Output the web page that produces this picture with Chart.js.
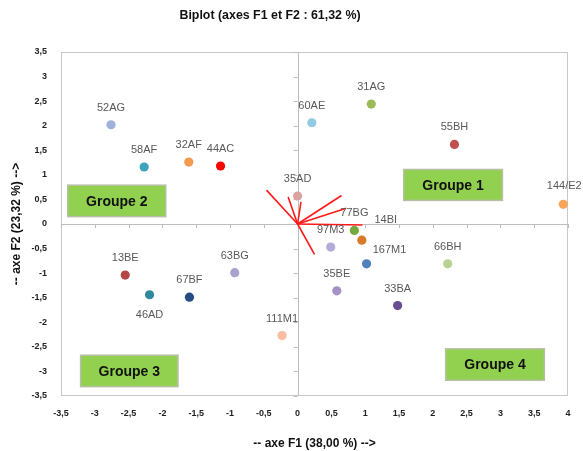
<!DOCTYPE html>
<html>
<head>
<meta charset="utf-8">
<script src="https://cdn.jsdelivr.net/npm/chart.js@4"></script>
<style>
  html, body { margin: 0; padding: 0; background: #fff; }
  #wrap { width: 583px; height: 451px; position: relative; }
</style>
</head>
<body>
<div id="wrap"><canvas id="biplot"></canvas></div>
<script>
// observations (F1, F2)
const obsNames = ['52AG', '58AF', '32AF', '44AC', '35AD', '60AE', '31AG', '55BH', '144/E2',
  '77BG', '14BI', '97M3', '167M1', '66BH', '35BE', '33BA', '111M1', '13BE', '46AD', '67BF', '63BG'];
const obsF1 = [-2.76, -2.27, -1.61, -1.14, 0.00, 0.21, 1.09, 2.32, 3.93,
  0.84, 0.95, 0.49, 1.02, 2.22, 0.58, 1.48, -0.23, -2.55, -2.19, -1.60, -0.93];
const obsF2 = [2.02, 1.16, 1.26, 1.18, 0.57, 2.06, 2.44, 1.62, 0.40,
  -0.13, -0.33, -0.47, -0.81, -0.81, -1.36, -1.66, -2.27, -1.04, -1.44, -1.49, -0.99];

// variable vectors (red lines)
const varF1 = [-0.46, -0.14, 0.05, 0.65, 0.72, 0.96, 0.25];
const varF2 = [0.69, 0.55, 0.45, 0.58, 0.32, -0.02, -0.62];

// group boxes [xMin, xMax, yMin, yMax]
const groupNames = ['Groupe 1', 'Groupe 2', 'Groupe 3', 'Groupe 4'];
const groupBoxes = [[1.57, 3.03, 0.48, 1.11], [-3.40, -1.95, 0.15, 0.79],
  [-3.21, -1.77, -3.31, -2.67], [2.19, 3.65, -3.18, -2.54]];

// styling
const obsColors = ['#9fb1d8', '#3ba3bc', '#f29a4e', '#ff0000', '#dba2a2', '#92cbe2', '#9bbb59', '#c0504d', '#f9a65a',
  '#77a83c', '#d97a2b', '#b3acdb', '#4f81bd', '#b7d291', '#a491c6', '#6a4e94', '#fbbda0', '#b44846', '#31899e', '#264c81', '#aaa2ca'];
const labelOffsets = {'14BI': [24, -20], '167M1': [23, -14], '46AD': [0, 20], '144/E2': [1, -18]};

const fmt = v => String(v).replace('.', ',');

const datasets = [];
varF1.forEach((x, i) => {
  datasets.push({
    data: [{x: 0, y: 0}, {x: x, y: varF2[i]}],
    showLine: true, borderColor: '#ff1a1a', borderWidth: 1.6,
    pointRadius: 0, pointHoverRadius: 0
  });
});
datasets.push({
  data: obsF1.map((x, i) => ({x: x, y: obsF2[i]})),
  pointRadius: 4.6, pointHoverRadius: 4.6,
  pointBackgroundColor: obsColors, pointBorderColor: obsColors, pointBorderWidth: 0,
  isObs: true
});

const decorPlugin = {
  id: 'decor',
  beforeDatasetsDraw(chart) {
    const {ctx, chartArea: a, scales: {x, y}} = chart;
    const x0 = x.getPixelForValue(0), y0 = y.getPixelForValue(0);
    ctx.save();
    ctx.strokeStyle = '#c8c8c8';
    ctx.lineWidth = 1;
    ctx.strokeRect(a.left + 0.5, a.top + 0.5, a.width - 1, a.height - 1);
    ctx.strokeStyle = '#bdbdbd';
    ctx.beginPath();
    ctx.moveTo(Math.round(x0) + 0.5, a.top); ctx.lineTo(Math.round(x0) + 0.5, a.bottom);
    ctx.moveTo(a.left, Math.round(y0) + 0.5); ctx.lineTo(a.right, Math.round(y0) + 0.5);
    x.ticks.forEach(t => {
      const px = Math.round(x.getPixelForValue(t.value)) + 0.5;
      ctx.moveTo(px, y0); ctx.lineTo(px, y0 + 4);
    });
    y.ticks.forEach(t => {
      const py = Math.round(y.getPixelForValue(t.value)) + 0.5;
      ctx.moveTo(x0 - 4, py); ctx.lineTo(x0, py);
    });
    ctx.stroke();

    // group boxes
    groupBoxes.forEach((b, i) => {
      const l = x.getPixelForValue(b[0]), r = x.getPixelForValue(b[1]);
      const t = y.getPixelForValue(b[3]), btm = y.getPixelForValue(b[2]);
      ctx.fillStyle = '#92d050';
      ctx.fillRect(l, t, r - l, btm - t);
      ctx.strokeStyle = '#b8bfa8';
      ctx.lineWidth = 1.5;
      ctx.strokeRect(l, t, r - l, btm - t);
      ctx.fillStyle = '#111';
      ctx.font = 'bold 14px "Liberation Sans Narrow", "Liberation Sans", Arial, sans-serif';
      ctx.textAlign = 'center';
      ctx.textBaseline = 'middle';
      ctx.fillText(groupNames[i], (l + r) / 2, (t + btm) / 2 + 1);
    });

    // title
    ctx.fillStyle = '#111';
    ctx.font = 'bold 12.4px "Liberation Sans Narrow", "Liberation Sans", Arial, sans-serif';
    ctx.textAlign = 'center';
    ctx.textBaseline = 'middle';
    ctx.fillText('Biplot (axes F1 et F2 : 61,32 %)', 270, 16);
    ctx.restore();
  },
  afterDatasetsDraw(chart) {
    const {ctx} = chart;
    const idx = chart.data.datasets.findIndex(d => d.isObs);
    const meta = chart.getDatasetMeta(idx);
    ctx.save();
    ctx.fillStyle = '#595959';
    ctx.font = '11px "Liberation Sans", Arial, sans-serif';
    ctx.textAlign = 'center';
    ctx.textBaseline = 'middle';
    meta.data.forEach((pt, i) => {
      const off = labelOffsets[obsNames[i]] || [0, -17];
      ctx.fillText(obsNames[i], pt.x + off[0], pt.y + off[1]);
    });
    ctx.restore();
  }
};

const tickFont = {family: '"Liberation Sans Narrow", "Liberation Sans", Arial, sans-serif', size: 9, weight: 'bold'};
const titleFont = {family: '"Liberation Sans Narrow", "Liberation Sans", Arial, sans-serif', size: 12, weight: 'bold'};

new Chart(document.getElementById('biplot'), {
  type: 'scatter',
  data: {datasets: datasets},
  options: {
    responsive: true,
    maintainAspectRatio: false,
    animation: false,
    layout: {padding: {top: 52, right: 15, bottom: 0, left: 0}},
    plugins: {legend: {display: false}, tooltip: {enabled: false}, title: {display: false}},
    scales: {
      x: {
        type: 'linear', min: -3.5, max: 4,
        ticks: {stepSize: 0.5, color: '#222', font: tickFont, padding: 12, callback: v => fmt(v), maxRotation: 0},
        grid: {display: false, drawTicks: false},
        border: {display: false},
        title: {display: true, text: '-- axe F1 (38,00 %) -->', color: '#111', font: titleFont, padding: {top: 12, bottom: 0}},
        afterFit: s => { s.height = 55; }
      },
      y: {
        type: 'linear', min: -3.5, max: 3.5,
        ticks: {stepSize: 0.5, color: '#222', font: tickFont, padding: 14, callback: v => fmt(v)},
        grid: {display: false, drawTicks: false},
        border: {display: false},
        title: {display: true, text: '-- axe F2 (23,32 %) -->', color: '#111', font: titleFont, padding: {top: 9, bottom: 4}},
        afterFit: s => { s.width = 61; }
      }
    }
  },
  plugins: [decorPlugin]
});
</script>
</body>
</html>
